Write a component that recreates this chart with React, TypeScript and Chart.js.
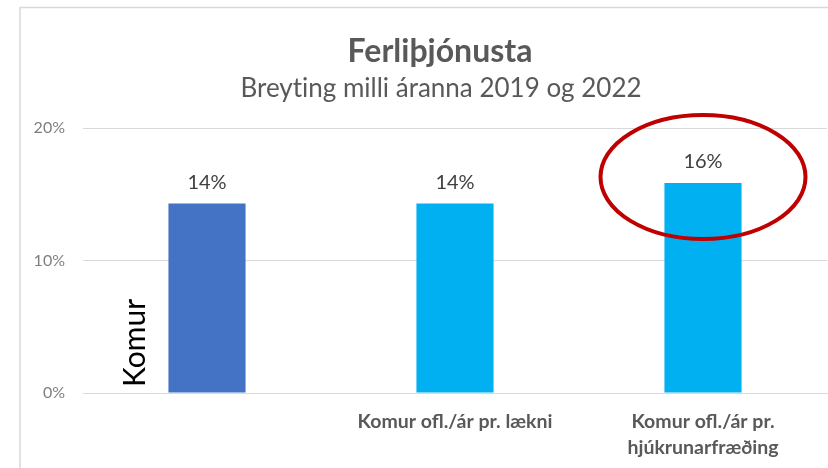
import React, { useEffect, useRef } from "react";
import { Chart, registerables } from "chart.js";

Chart.register(...registerables);

const TITLE = "Ferliþjónusta";
const SUBTITLE = "Breyting milli áranna 2019 og 2022";
const categories: (string | string[])[] = [
  "Komur",
  "Komur ofl./ár pr. lækni",
  ["Komur ofl./ár pr.", "hjúkrunarfræðing"],
];
const changePct = [14.3, 14.3, 15.85];
const barColors = ["#4472C4", "#00B0F0", "#00B0F0"];
const yTicks = [0, 10, 20];
const highlightIndex = 2;

const FONT = "Lato, 'Open Sans', sans-serif";

const framePlugin = {
  id: "frame",
  beforeDraw(chart: any) {
    const ctx = chart.ctx;
    ctx.save();
    ctx.strokeStyle = "#d9d9d9";
    ctx.lineWidth = 1.5;
    ctx.beginPath();
    ctx.moveTo(20, chart.height);
    ctx.lineTo(20, 7.5);
    ctx.lineTo(chart.width, 7.5);
    ctx.stroke();
    ctx.fillStyle = "#595959";
    ctx.textAlign = "center";
    ctx.textBaseline = "alphabetic";
    try {
      (ctx as any).textRendering = "optimizeSpeed";
    } catch (e) {}
    ctx.font = `bold 32px ${FONT}`;
    ctx.fillText(TITLE, 440, 62);
    ctx.font = `26px ${FONT}`;
    ctx.fillText(SUBTITLE, 441, 97);
    ctx.restore();
  },
};

const labelsPlugin = {
  id: "barLabels",
  afterDatasetsDraw(chart: any) {
    const ctx = chart.ctx;
    const meta = chart.getDatasetMeta(0);
    const area = chart.chartArea;
    ctx.save();
    ctx.font = `20px ${FONT}`;
    ctx.fillStyle = "#404040";
    ctx.textAlign = "center";
    ctx.textBaseline = "alphabetic";
    meta.data.forEach((bar: any, i: number) => {
      ctx.fillText(Math.round(changePct[i]) + "%", bar.x, bar.y - 15);
    });
    const b0 = meta.data[0];
    ctx.font = `30px ${FONT}`;
    ctx.fillStyle = "#000000";
    ctx.textAlign = "left";
    ctx.translate(b0.x - b0.width / 2 - 23, area.bottom - 6);
    ctx.rotate(-Math.PI / 2);
    ctx.fillText(String(categories[0]), 0, 0);
    ctx.restore();
    const hb = meta.data[highlightIndex];
    const ys = chart.scales.y;
    ctx.save();
    ctx.strokeStyle = "#C00000";
    ctx.lineWidth = 4;
    ctx.beginPath();
    ctx.ellipse(hb.x, ys.getPixelForValue(16.3), 102.5, 62, 0, 0, Math.PI * 2);
    ctx.stroke();
    ctx.restore();
  },
};

export default function App() {
  const ref = useRef<HTMLCanvasElement>(null);
  useEffect(() => {
    if (!ref.current) return;
    const chart = new Chart(ref.current, {
      type: "bar",
      data: {
        labels: categories,
        datasets: [
          {
            data: changePct,
            backgroundColor: barColors,
            borderWidth: 0,
            categoryPercentage: 1,
            barPercentage: 0.311,
          },
        ],
      },
      options: {
        animation: false,
        responsive: false,
        devicePixelRatio: 1,
        layout: { padding: { left: 20, right: 1, top: 128, bottom: 0 } },
        plugins: {
          legend: { display: false },
          tooltip: { enabled: false },
          title: { display: false },
        },
        scales: {
          x: {
            grid: { display: false, drawTicks: false },
            border: { display: true, color: "#d9d9d9", width: 1 },
            ticks: {
              color: "#595959",
              font: { family: FONT, size: 19.5, weight: "bold", lineHeight: 1.36 },
              padding: 15,
              maxRotation: 0,
              autoSkip: false,
              callback: (_v: any, i: number) => (i === 0 ? "" : categories[i]),
            },
            afterFit: (s: any) => {
              s.height = 75;
            },
          },
          y: {
            min: 0,
            max: 20,
            afterBuildTicks: (s: any) => {
              s.ticks = yTicks.map((v) => ({ value: v }));
            },
            grid: { color: "#d9d9d9", drawTicks: false, lineWidth: 1 },
            border: { display: false },
            ticks: {
              color: "#7f7f7f",
              font: { family: FONT, size: 16 },
              padding: 18,
              callback: (v: any) => v + "%",
            },
            afterFit: (s: any) => {
              s.width = 63;
            },
          },
        },
      },
      plugins: [framePlugin, labelsPlugin],
    });
    return () => chart.destroy();
  }, []);
  return (
    <div style={{ position: "fixed", left: 0, top: 0, width: 828, height: 468, background: "#fff" }}>
      <canvas ref={ref} width={828} height={468} style={{ width: 828, height: 468 }} />
    </div>
  );
}
